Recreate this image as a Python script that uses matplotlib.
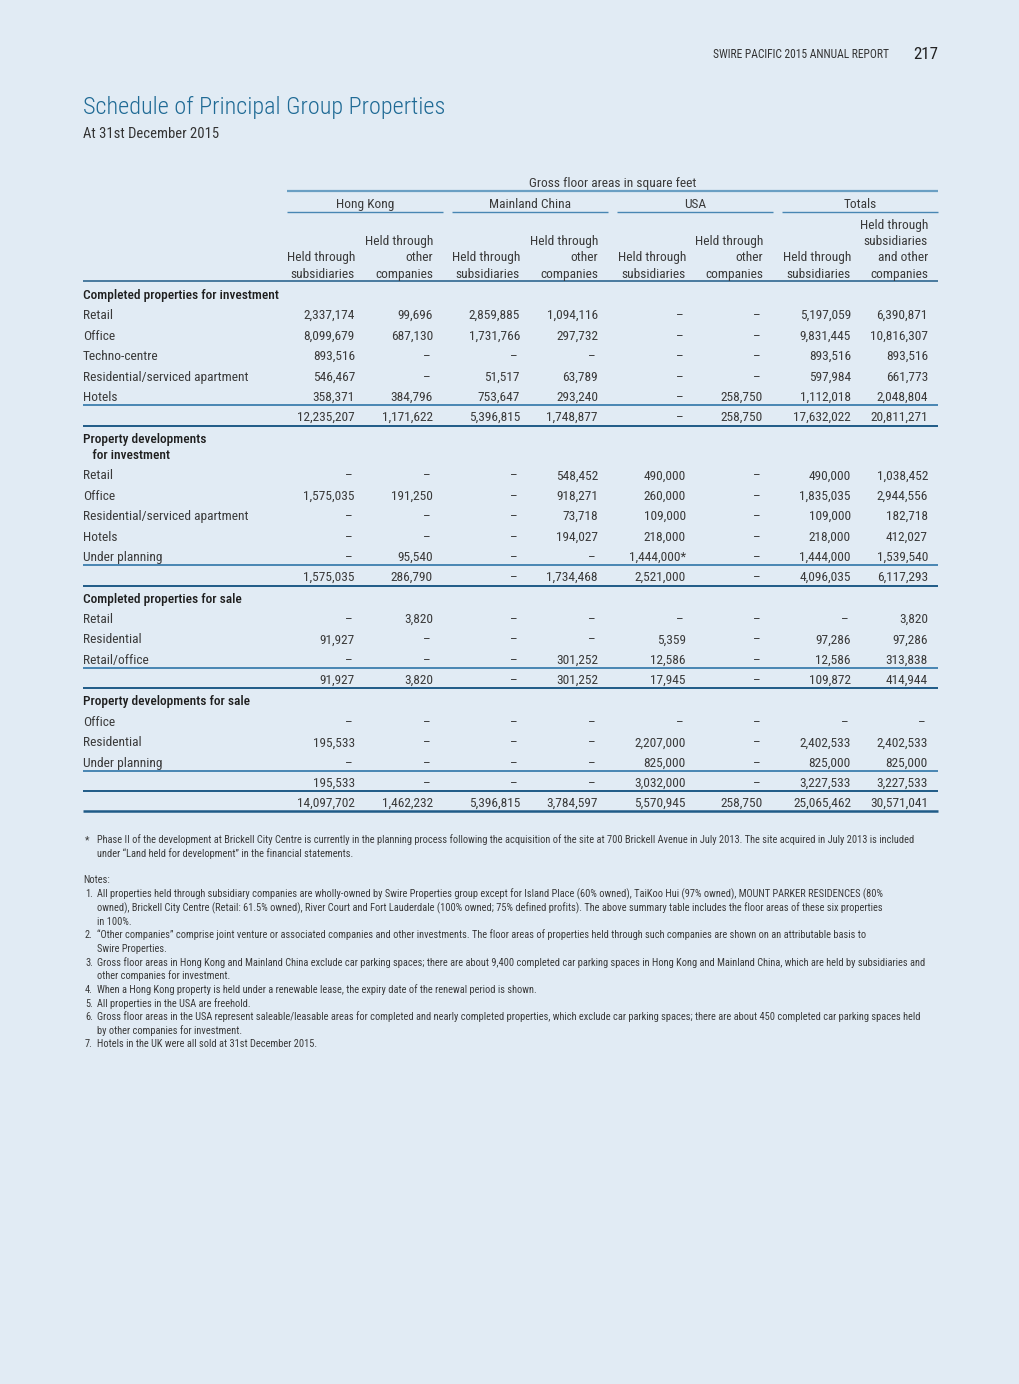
import matplotlib
matplotlib.use("Agg")
import matplotlib.pyplot as plt
import matplotlib.font_manager as fm

# ---------------- data ----------------
region_groups = ["Hong Kong", "Mainland China", "USA", "Totals"]
col_header_sub = ["Held through\nsubsidiaries", "Held through\nother\ncompanies"]
col_header_total_last = "Held through\nsubsidiaries\nand other\ncompanies"

sec1_title = ["Completed properties for investment"]
sec1_rows = ["Retail", "Office", "Techno-centre", "Residential/serviced apartment", "Hotels"]
sec1_vals = [
    [2337174, 99696, 2859885, 1094116, None, None, 5197059, 6390871],
    [8099679, 687130, 1731766, 297732, None, None, 9831445, 10816307],
    [893516, None, None, None, None, None, 893516, 893516],
    [546467, None, 51517, 63789, None, None, 597984, 661773],
    [358371, 384796, 753647, 293240, None, 258750, 1112018, 2048804],
]
sec1_total = [12235207, 1171622, 5396815, 1748877, None, 258750, 17632022, 20811271]

sec2_title = ["Property developments", "   for investment"]
sec2_rows = ["Retail", "Office", "Residential/serviced apartment", "Hotels", "Under planning"]
sec2_vals = [
    [None, None, None, 548452, 490000, None, 490000, 1038452],
    [1575035, 191250, None, 918271, 260000, None, 1835035, 2944556],
    [None, None, None, 73718, 109000, None, 109000, 182718],
    [None, None, None, 194027, 218000, None, 218000, 412027],
    [None, 95540, None, None, 1444000, None, 1444000, 1539540],
]
sec2_marks = {(4, 4): "*"}
sec2_total = [1575035, 286790, None, 1734468, 2521000, None, 4096035, 6117293]

sec3_title = ["Completed properties for sale"]
sec3_rows = ["Retail", "Residential", "Retail/office"]
sec3_vals = [
    [None, 3820, None, None, None, None, None, 3820],
    [91927, None, None, None, 5359, None, 97286, 97286],
    [None, None, None, 301252, 12586, None, 12586, 313838],
]
sec3_total = [91927, 3820, None, 301252, 17945, None, 109872, 414944]

sec4_title = ["Property developments for sale"]
sec4_rows = ["Office", "Residential", "Under planning"]
sec4_vals = [
    [None, None, None, None, None, None, None, None],
    [195533, None, None, None, 2207000, None, 2402533, 2402533],
    [None, None, None, None, 825000, None, 825000, 825000],
]
sec4_total = [195533, None, None, None, 3032000, None, 3227533, 3227533]

grand_total = [14097702, 1462232, 5396815, 3784597, 5570945, 258750, 25065462, 30571041]

footnote_star = ("Phase II of the development at Brickell City Centre is currently in the planning process following the acquisition of the site at 700 Brickell Avenue in July 2013. The site acquired in July 2013 is included\n"
                 "under \u201cLand held for development\u201d in the financial statements.")
notes = [
    "All properties held through subsidiary companies are wholly-owned by Swire Properties group except for Island Place (60% owned), TaiKoo Hui (97% owned), MOUNT PARKER RESIDENCES (80%\nowned), Brickell City Centre (Retail: 61.5% owned), River Court and Fort Lauderdale (100% owned; 75% defined profits). The above summary table includes the floor areas of these six properties\nin 100%.",
    "\u201cOther companies\u201d comprise joint venture or associated companies and other investments. The floor areas of properties held through such companies are shown on an attributable basis to\nSwire Properties.",
    "Gross floor areas in Hong Kong and Mainland China exclude car parking spaces; there are about 9,400 completed car parking spaces in Hong Kong and Mainland China, which are held by subsidiaries and\nother companies for investment.",
    "When a Hong Kong property is held under a renewable lease, the expiry date of the renewal period is shown.",
    "All properties in the USA are freehold.",
    "Gross floor areas in the USA represent saleable/leasable areas for completed and nearly completed properties, which exclude car parking spaces; there are about 450 completed car parking spaces held\nby other companies for investment.",
    "Hotels in the UK were all sold at 31st December 2015.",
]

# ---------------- font choice (prefer a narrow sans) ----------------
_cond = {"ultra-condensed", "extra-condensed", "condensed", "semi-condensed"}
def _is_cond(f):
    s = f.stretch
    if isinstance(s, str):
        return s in _cond
    try:
        return float(s) < 500
    except Exception:
        return False

_names = {f.name for f in fm.fontManager.ttflist}
FAM, STRETCH = None, "normal"
for nm in ["Liberation Sans Narrow", "Roboto Condensed", "Open Sans Condensed", "Noto Sans Condensed", "DejaVu Sans Condensed"]:
    if nm in _names:
        FAM = nm
        break
if FAM is None:
    for nm in ["Roboto", "Noto Sans", "DejaVu Sans", "Open Sans", "Inter"]:
        if any(f.name == nm and _is_cond(f) for f in fm.fontManager.ttflist):
            FAM, STRETCH = nm, "condensed"
            break
if FAM is None:
    FAM = "Roboto" if "Roboto" in _names else "DejaVu Sans"
FONT = [FAM, "DejaVu Sans"]
W = "normal"

# ---------------- layout / style ----------------
BG = "#e1ebf4"
TXT = "#3a3a3a"
BLUE_L = "#6a9fc3"
BLUE_M = "#4886b3"
BLUE_D = "#1f5b87"

fig = plt.figure(figsize=(10.2, 13.84), dpi=100, facecolor=BG)
ax = fig.add_axes([0, 0, 1, 1])
ax.set_xlim(0, 1020)
ax.set_ylim(1384, 0)
ax.axis("off")
ax.set_facecolor(BG)
renderer = fig.canvas.get_renderer()

def fit(s, target_px, cap, weight=W):
    tt = ax.text(0, 0, s, fontsize=10, family=FONT, fontweight=weight, fontstretch=STRETCH)
    w = tt.get_window_extent(renderer).width
    tt.remove()
    return min(cap, 10 * target_px / w)

def t(x, y, s, size, ha="left", color=TXT, weight=W):
    # y is the visual centre of the capitals; place on a common baseline
    base = y + 0.32 * size * 100 / 72
    ax.text(x, base, s, fontsize=size, ha=ha, va="baseline", color=color, family=FONT,
            fontweight=weight, fontstretch=STRETCH)

def hline(y, x0, x1, color, lw):
    ax.plot([x0, x1], [y, y], color=color, lw=lw, solid_capstyle="butt")

S_TITLE = fit("Schedule of Principal Group Properties", 375, 17.5, weight="light")
S_SUB = fit("At 31st December 2015", 148, 10.5)
S_HEAD = fit("SWIRE PACIFIC 2015 ANNUAL REPORT", 192, 8.3)
S_PAGE = fit("217", 25, 12.5)
TS = fit("Residential/serviced apartment", 163, 9.6)
TSB = fit("Completed properties for investment", 197, 9.6, weight="medium")
NS = fit(notes[2].split("\n")[0], 840, 7.5)

# page header
t(889, 54, "SWIRE PACIFIC 2015 ANNUAL REPORT", S_HEAD, ha="right", color="#333333")
t(938, 53.5, "217", S_PAGE, ha="right", color="#222222")
t(83, 106, "Schedule of Principal Group Properties", S_TITLE, color="#1f6a95", weight="light")
t(83, 133, "At 31st December 2015", S_SUB, color="#333333")

# table geometry
LEFT = 83
RIGHT = 938
col_right = [355, 433, 520, 598, 686, 763, 851, 928]
group_span = [(287, 443), (452, 608), (617, 773), (782, 938)]
RH = 20.45

t((287 + 938) / 2, 183, "Gross floor areas in square feet", TS, ha="center")
hline(191, 287, 938, BLUE_L, 1.6)
for (a, b), g in zip(group_span, region_groups):
    t((a + b) / 2, 203.5, g, TS, ha="center")
    hline(212, a, b, BLUE_M, 1.0)

for i, xr in enumerate(col_right):
    lines = col_header_total_last.split("\n") if i == 7 else col_header_sub[i % 2].split("\n")
    for k, ln in enumerate(reversed(lines)):
        t(xr, 273.5 - k * 16.3, ln, TS, ha="right")
hline(281, LEFT, RIGHT, BLUE_D, 1.1)

def draw_vals(y, vals, marks=None, row=None):
    for c, v in enumerate(vals):
        if v is None:
            t(col_right[c] - 2.5, y, "\u2013", TS, ha="right")
        else:
            s = f"{v:,}"
            if marks and (row, c) in marks:
                s += marks[(row, c)]
            t(col_right[c], y, s, TS, ha="right")

sections = [
    (sec1_title, sec1_rows, sec1_vals, sec1_total, None),
    (sec2_title, sec2_rows, sec2_vals, sec2_total, sec2_marks),
    (sec3_title, sec3_rows, sec3_vals, sec3_total, None),
    (sec4_title, sec4_rows, sec4_vals, sec4_total, None),
]

y = 294.5
for si, (title, rows, vals, total, marks) in enumerate(sections):
    for k, tl in enumerate(title):
        t(LEFT, y, tl, TSB, color="#1e1e1e", weight="medium")
        y += 16.3 if k < len(title) - 1 else RH
    for r, (lab, vv) in enumerate(zip(rows, vals)):
        t(LEFT, y, lab, TS)
        draw_vals(y, vv, marks, r)
        y += RH
    ly = y - RH + 8.0
    hline(ly, LEFT, RIGHT, BLUE_M, 1.4)
    draw_vals(y - 0.5, total)
    hline(ly + 20.8, LEFT, RIGHT, BLUE_D, 1.4)
    y += RH + 0.6

# grand total
draw_vals(802.5, grand_total)
hline(811, LEFT, RIGHT, BLUE_D, 1.8)

# footnotes
t(85, 840, "*", NS)
for k, ln in enumerate(footnote_star.split("\n")):
    t(97, 840 + k * 13.6, ln, NS)

t(83, 880, "Notes:", NS)
ny = 894
for i, n in enumerate(notes):
    t(85, ny, f"{i + 1}.", NS)
    for ln in n.split("\n"):
        t(97, ny, ln, NS)
        ny += 13.65

fig.savefig("out.png", dpi=100, facecolor=BG)
